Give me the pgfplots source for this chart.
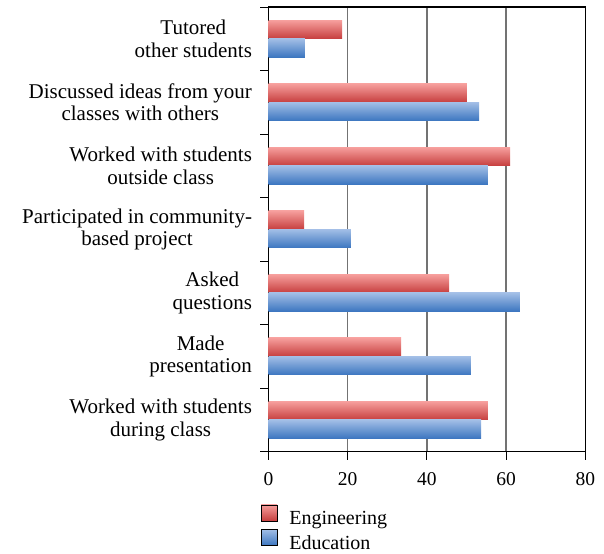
\documentclass[border=0pt]{standalone}
\usepackage{fontspec}
\setmainfont{Liberation Serif}
\usepackage{pgfplots}
\pgfplotsset{compat=1.18}

\definecolor{engtop}{RGB}{246,158,156}
\definecolor{engbot}{RGB}{198,62,62}
\definecolor{edutop}{RGB}{162,190,230}
\definecolor{edubot}{RGB}{60,118,192}

% one \addplot per bar, so that every bar gets its own top-to-bottom gradient
\pgfplotsset{
    engbar/.style={draw=none, top color=engtop, bottom color=engbot, bar shift=0.145, forget plot},
    edubar/.style={draw=none, top color=edutop, bottom color=edubot, bar shift=-0.145, forget plot},
}

\begin{document}
\begin{tikzpicture}
\useasboundingbox (0,0) rectangle (604bp,-554bp);
\begin{axis}[
    at={(268.5bp,-451.7bp)}, anchor=south west,
    scale only axis,
    width=316.8bp, height=444.7bp,
    xbar,
    bar width=0.29,
    xmin=0, xmax=80,
    ymin=-0.5, ymax=6.5,
    xtick={0,20,40,60,80},
    ytick={0,...,6},
    yticklabels={
        {Worked with students\\during class},
        {Made\\presentation},
        {Asked\\questions},
        {Participated in community-\\based project},
        {Worked with students\\outside class},
        {Discussed ideas from your\\classes with others},
        {Tutored\\other students}},
    major y tick style={draw=none},
    minor ytick={-0.5,0.5,...,6.5},
    minor tick length=8bp,
    major tick length=8bp,
    tick align=outside,
    tick style={black, line width=0.9bp},
    xtick pos=bottom,
    ytick pos=left,
    xmajorgrids,
    major grid style={black!55, line width=1.5bp},
    axis line style={black, line width=1.1bp},
    yticklabel style={align=center, xshift=-5bp, font=\fontsize{21bp}{22.5bp}\selectfont},
    xticklabel style={yshift=-9bp, font=\fontsize{19.5bp}{22bp}\selectfont},
    /pgf/number format/assume math mode=true,
    legend style={
        at={(axis description cs:-0.034,-0.114)}, anchor=north west,
        draw=none, fill=none,
        font=\fontsize{20bp}{22bp}\selectfont,
        row sep=1bp,
        /tikz/every odd column/.append style={column sep=10bp}},
    legend cell align=left,
]
% during class, presentation, questions, community, outside, discussed, tutored
\addplot[engbar] coordinates {(55.4,0)};
\addplot[engbar] coordinates {(33.5,1)};
\addplot[engbar] coordinates {(45.6,2)};
\addplot[engbar] coordinates {(9.0,3)};
\addplot[engbar] coordinates {(61.0,4)};
\addplot[engbar] coordinates {(50.1,5)};
\addplot[engbar] coordinates {(18.6,6)};

\addplot[edubar] coordinates {(53.7,0)};
\addplot[edubar] coordinates {(51.1,1)};
\addplot[edubar] coordinates {(63.5,2)};
\addplot[edubar] coordinates {(20.8,3)};
\addplot[edubar] coordinates {(55.4,4)};
\addplot[edubar] coordinates {(53.2,5)};
\addplot[edubar] coordinates {(9.2,6)};

\addlegendimage{legend image code/.code={\fill[top color=engtop, bottom color=engbot] (0bp,-2bp) rectangle (16bp,14bp);}}
\addlegendentry{Engineering}
\addlegendimage{legend image code/.code={\fill[top color=edutop, bottom color=edubot] (0bp,-2bp) rectangle (16bp,14bp);}}
\addlegendentry{Education}
\end{axis}
\end{tikzpicture}
\end{document}
